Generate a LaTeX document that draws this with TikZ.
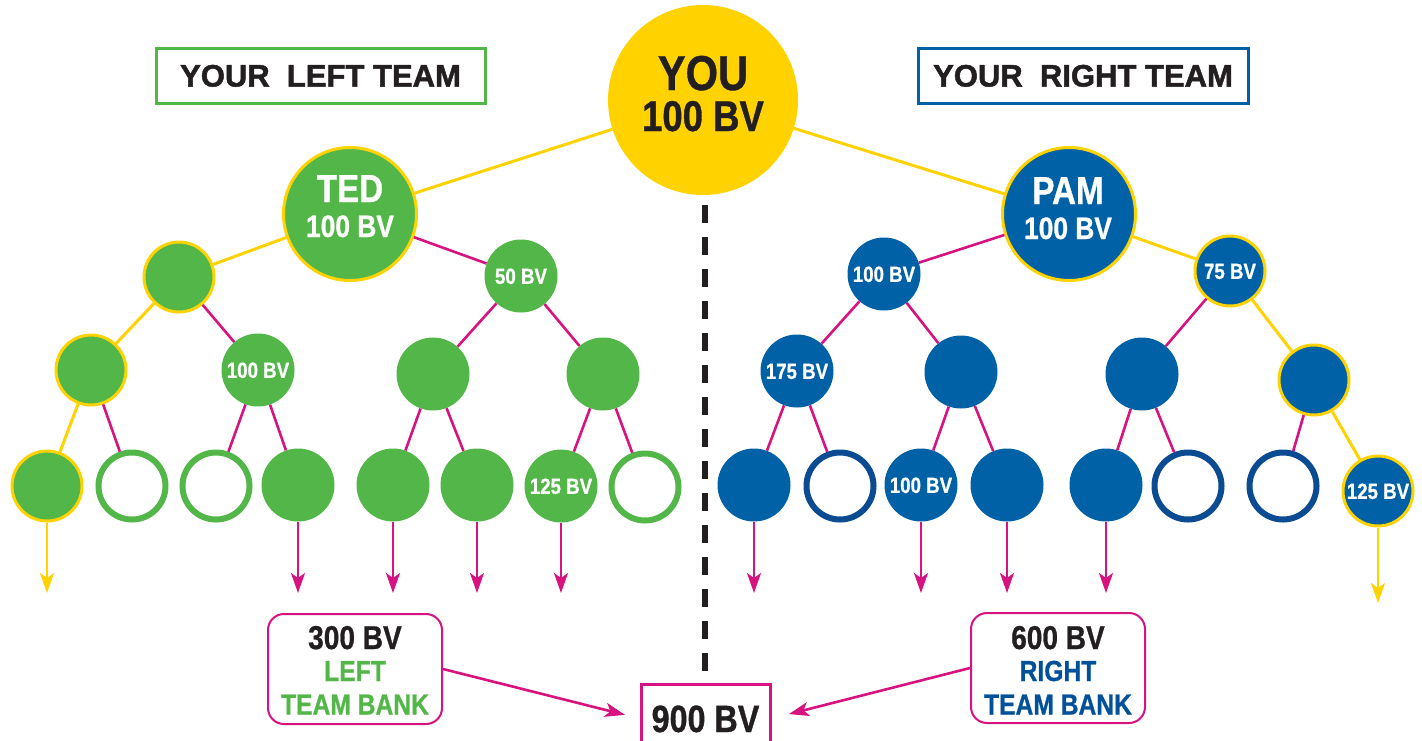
\documentclass[tikz,border=0pt]{standalone}
\usepackage{fontspec}
\setmainfont{Liberation Sans}
\newfontfamily\condf[FakeStretch=0.85, FakeBold=0.8]{Liberation Sans}
\newfontfamily\headf[FakeBold=1.6]{Liberation Sans}
\usetikzlibrary{arrows.meta}
\definecolor{tgreen}{HTML}{52B748}
\definecolor{tblue}{HTML}{0061A6}
\definecolor{tdblue}{HTML}{0A4B92}
\definecolor{tyellow}{HTML}{FFD200}
\definecolor{tmag}{HTML}{D6137F}
\definecolor{tblack}{HTML}{231F20}
\definecolor{ttxtblue}{HTML}{00519A}
\tikzset{
  edgeY/.style={draw=tyellow, line width=3pt},
  edgeM/.style={draw=tmag, line width=2.6pt},
  dot/.style={circle, inner sep=0pt, minimum size=73pt, text=white,
    font=\condf\bfseries\fontsize{22}{22}\selectfont, text height=15.8pt, text depth=0pt},
  gdot/.style={dot, fill=tgreen},
  bdot/.style={dot, fill=tblue},
  ybd/.style={draw=tyellow, line width=3pt, minimum size=70pt},
  gempty/.style={dot, draw=tgreen, line width=6pt, fill=white, minimum size=67pt},
  bempty/.style={dot, draw=tdblue, line width=6pt, fill=white, minimum size=67pt},
  bigdot/.style={circle, inner sep=0pt, minimum size=133pt, draw=tyellow, line width=3pt},
  arrM/.style={draw=tmag, line width=2.6pt, -{Stealth[length=20pt,width=14pt,inset=5pt]}},
  arrY/.style={draw=tyellow, line width=2.6pt, -{Stealth[length=20pt,width=14pt,inset=5pt]}},
  header/.style={line width=3pt, inner sep=0pt, minimum height=55pt, text=tblack,
    font=\headf\bfseries\fontsize{31}{31}\selectfont, text height=22pt, text depth=0pt},
  bank/.style={draw=tmag, line width=2pt, rounded corners=16pt, minimum width=174pt, minimum height=110pt},
  banktxt/.style={anchor=base, inner sep=0pt, font=\condf\bfseries\fontsize{29}{29}\selectfont},
  bigtxt/.style={anchor=base, inner sep=0pt, text=white},
}
\begin{document}
\begin{tikzpicture}[x=1pt,y=-1pt]
\useasboundingbox (0,0) rectangle (1422,740);
\clip (0,0) rectangle (1422,740);
\fill[white] (0,0) rectangle (1422,740);

% headers
\node[header, draw=tgreen, minimum width=329pt] (lteam) at (320.5,75.5) {YOUR\ \ LEFT TEAM};
\node[header, draw=tblue, minimum width=330pt] (rteam) at (1083,75.5) {YOUR\ \ RIGHT TEAM};

% top
\node[circle, fill=tyellow, inner sep=0pt, minimum size=190pt] (you) at (703,100) {};
\node[bigtxt, text=tblack, font=\condf\bfseries\fontsize{49}{49}\selectfont] (you1) at (703,90) {YOU};
\node[bigtxt, text=tblack, font=\condf\bfseries\fontsize{43}{43}\selectfont] (you2) at (703,131) {100 BV};

\node[bigdot, fill=tgreen] (ted) at (350,214) {};
\node[bigtxt, font=\condf\bfseries\fontsize{39}{39}\selectfont] (ted1) at (350,202) {TED};
\node[bigtxt, font=\condf\bfseries\fontsize{31}{31}\selectfont] (ted2) at (350,237) {100 BV};

\node[bigdot, fill=tblue] (pam) at (1069,214) {};
\node[bigtxt, font=\condf\bfseries\fontsize{39}{39}\selectfont] (pam1) at (1068,204) {PAM};
\node[bigtxt, font=\condf\bfseries\fontsize{31}{31}\selectfont] (pam2) at (1068,239) {100 BV};

% left tree
\node[gdot, ybd] (l2a) at (179,277) {};
\node[gdot] (l2b) at (521,276) {50 BV};
\node[gdot, ybd] (l3a) at (91,370) {};
\node[gdot] (l3b) at (258,370) {100 BV};
\node[gdot] (l3c) at (433,374) {};
\node[gdot] (l3d) at (603,374) {};
\node[gdot, ybd] (l4a) at (47,486) {};
\node[gempty] (l4b) at (132,486) {};
\node[gempty] (l4c) at (216,486) {};
\node[gdot] (l4d) at (298,485) {};
\node[gdot] (l4e) at (393,485) {};
\node[gdot] (l4f) at (477,485) {};
\node[gdot] (l4g) at (561,486) {125 BV};
\node[gempty] (l4h) at (645,487) {};

% right tree
\node[bdot] (r2a) at (884,274) {100 BV};
\node[bdot, ybd] (r2b) at (1230,271) {75 BV};
\node[bdot] (r3a) at (797,371) {175 BV};
\node[bdot] (r3b) at (961,372) {};
\node[bdot] (r3c) at (1142,374) {};
\node[bdot, ybd] (r3d) at (1314,380) {};
\node[bdot] (r4a) at (754,485) {};
\node[bempty] (r4b) at (840,486) {};
\node[bdot] (r4c) at (921,485) {100 BV};
\node[bdot] (r4d) at (1007,485) {};
\node[bdot] (r4e) at (1106,485) {};
\node[bempty] (r4f) at (1188,486) {};
\node[bempty] (r4g) at (1283,486) {};
\node[bdot, ybd] (r4h) at (1378,491) {125 BV};

% edges
\draw[edgeY] (you) -- (ted);
\draw[edgeY] (you) -- (pam);
\draw[edgeY] (ted) -- (l2a);
\draw[edgeM] (ted) -- (l2b);
\draw[edgeY] (l2a) -- (l3a);
\draw[edgeM] (l2a) -- (l3b);
\draw[edgeM] (l2b) -- (l3c);
\draw[edgeM] (l2b) -- (l3d);
\draw[edgeY] (l3a) -- (l4a);
\draw[edgeM] (l3a) -- (l4b);
\draw[edgeM] (l3b) -- (l4c);
\draw[edgeM] (l3b) -- (l4d);
\draw[edgeM] (l3c) -- (l4e);
\draw[edgeM] (l3c) -- (l4f);
\draw[edgeM] (l3d) -- (l4g);
\draw[edgeM] (l3d) -- (l4h);

\draw[edgeM] (pam) -- (r2a);
\draw[edgeY] (pam) -- (r2b);
\draw[edgeM] (r2a) -- (r3a);
\draw[edgeM] (r2a) -- (r3b);
\draw[edgeM] (r2b) -- (r3c);
\draw[edgeY] (r2b) -- (r3d);
\draw[edgeM] (r3a) -- (r4a);
\draw[edgeM] (r3a) -- (r4b);
\draw[edgeM] (r3b) -- (r4c);
\draw[edgeM] (r3b) -- (r4d);
\draw[edgeM] (r3c) -- (r4e);
\draw[edgeM] (r3c) -- (r4f);
\draw[edgeM] (r3d) -- (r4g);
\draw[edgeY] (r3d) -- (r4h);

% down arrows
\coordinate (e-l4a) at (47,593);
\coordinate (e-l4d) at (298,593);
\coordinate (e-l4e) at (393,593);
\coordinate (e-l4f) at (477,593);
\coordinate (e-l4g) at (561,593);
\coordinate (e-r4a) at (754,593);
\coordinate (e-r4c) at (921,593);
\coordinate (e-r4d) at (1007,593);
\coordinate (e-r4e) at (1106,593);
\coordinate (e-r4h) at (1378,603);
\draw[arrY] (l4a) -- (e-l4a);
\draw[arrM] (l4d) -- (e-l4d);
\draw[arrM] (l4e) -- (e-l4e);
\draw[arrM] (l4f) -- (e-l4f);
\draw[arrM] (l4g) -- (e-l4g);
\draw[arrM] (r4a) -- (e-r4a);
\draw[arrM] (r4c) -- (e-r4c);
\draw[arrM] (r4d) -- (e-r4d);
\draw[arrM] (r4e) -- (e-r4e);
\draw[arrY] (r4h) -- (e-r4h);

% dashed divider
\coordinate (dtop) at (705,205);
\coordinate (dbot) at (705,682);
\draw[tblack, line width=6pt, dash pattern=on 18pt off 14pt] (dtop) -- (dbot);

% banks
\node[bank] (lbank) at (355,669) {};
\node[banktxt, text=tblack, font=\condf\bfseries\fontsize{33}{33}\selectfont] (lb1) at (355,649) {300 BV};
\node[banktxt, text=tgreen] (lb2) at (355,681) {LEFT};
\node[banktxt, text=tgreen] (lb3) at (355,714.5) {TEAM BANK};

\node[bank] (rbank) at (1058,668) {};
\node[banktxt, text=tblack, font=\condf\bfseries\fontsize{33}{33}\selectfont] (rb1) at (1058,649) {600 BV};
\node[banktxt, text=ttxtblue] (rb2) at (1058,681) {RIGHT};
\node[banktxt, text=ttxtblue] (rb3) at (1058,714.5) {TEAM BANK};

\node[draw=tmag, line width=3pt, inner sep=0pt, minimum width=129pt, minimum height=69pt,
  text=tblack, font=\condf\bfseries\fontsize{38}{38}\selectfont, text height=27pt, text depth=0pt]
  (total) at (705.5,718.5) {900 BV};

\draw[arrM, shorten >=15pt] (lbank.east) -- (total.west);
\draw[arrM, shorten >=18pt] (rbank.west) -- (total.east);
\end{tikzpicture}
\end{document}
